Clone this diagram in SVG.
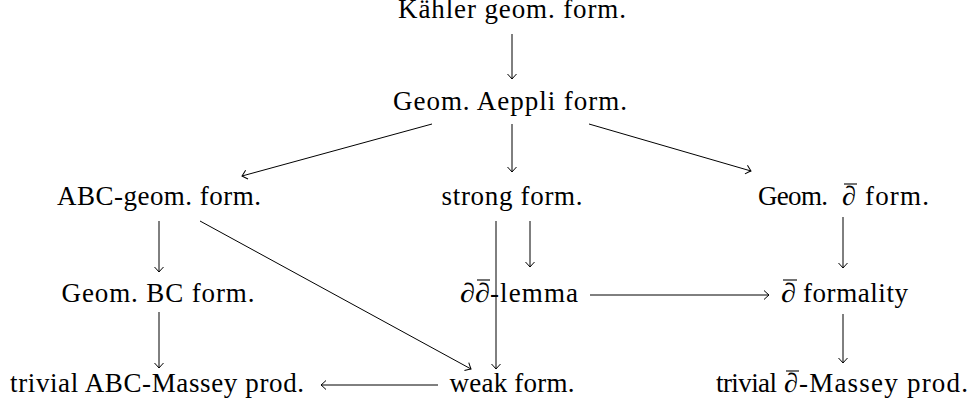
<svg xmlns="http://www.w3.org/2000/svg" width="978" height="412" viewBox="0 0 978 412">
<defs>
<style>
text{font-family:"Liberation Serif","Times New Roman",serif;font-size:27px;fill:#000}
.c{text-anchor:middle}
.i{font-style:italic}
.bar{stroke:#000;stroke-width:1.1}
.e{stroke:#000;stroke-width:1;fill:none;marker-end:url(#ah)}
</style>
<marker id="ah" markerUnits="userSpaceOnUse" markerWidth="12" markerHeight="12" refX="0" refY="0" viewBox="-6 -6 12 12" orient="auto" overflow="visible">
<path d="M-5,-4.5 Q-1.5,-1.2 0,0 Q-1.5,1.2 -5,4.5" fill="none" stroke="#000" stroke-width="1"/>
</marker>
</defs>
<rect width="978" height="412" fill="#fff"/>
<g id="connectors">
<line class="e" x1="512" y1="34" x2="512" y2="79"/>
<line class="e" x1="432" y1="124" x2="242" y2="176"/>
<line class="e" x1="512" y1="124" x2="512" y2="172"/>
<line class="e" x1="589" y1="124" x2="751" y2="171"/>
<line class="e" x1="159" y1="221" x2="159" y2="272"/>
<line class="e" x1="159" y1="312" x2="159" y2="368"/>
<line class="e" x1="200" y1="221" x2="471" y2="369"/>
<line class="e" x1="496" y1="221" x2="496" y2="369"/>
<line class="e" x1="530" y1="221" x2="530" y2="267"/>
<line class="e" x1="590" y1="295" x2="769" y2="295"/>
<line class="e" x1="843" y1="217" x2="843" y2="268"/>
<line class="e" x1="843" y1="314" x2="843" y2="363"/>
<line class="e" x1="438" y1="385" x2="321" y2="385"/>
</g>
<g id="kahler"><text class="c" x="512" y="18" textLength="228" lengthAdjust="spacing">Kähler geom.  form.</text></g>
<g id="aeppli"><text class="c" x="510" y="110" textLength="234" lengthAdjust="spacing">Geom.  Aeppli form.</text></g>
<g id="abcgeom"><text class="c" x="159" y="205" textLength="204" lengthAdjust="spacing">ABC-geom.  form.</text></g>
<g id="strong"><text class="c" x="512" y="205" textLength="141" lengthAdjust="spacing">strong form.</text></g>
<g id="geomdbar">
<text x="758" y="205" textLength="70" lengthAdjust="spacing">Geom.</text>
<text class="i" x="842" y="205" textLength="14" lengthAdjust="spacingAndGlyphs">∂</text>
<line class="bar" x1="844" y1="184" x2="857" y2="184"/>
<text x="865" y="205" textLength="64" lengthAdjust="spacing">form.</text>
</g>
<g id="geombc"><text class="c" x="158" y="302" textLength="193" lengthAdjust="spacing">Geom.  BC form.</text></g>
<g id="ddbar">
<text class="i" x="460" y="302" textLength="30" lengthAdjust="spacingAndGlyphs">∂∂</text>
<line class="bar" x1="477" y1="280" x2="490" y2="280"/>
<text x="490" y="302" textLength="88" lengthAdjust="spacing">-lemma</text>
</g>
<g id="dbarformality">
<text class="i" x="781" y="302" textLength="15" lengthAdjust="spacingAndGlyphs">∂</text>
<line class="bar" x1="783" y1="280" x2="797" y2="280"/>
<text x="803" y="302" textLength="105" lengthAdjust="spacing">formality</text>
</g>
<g id="trivialabc"><text class="c" x="157" y="392" textLength="294" lengthAdjust="spacing">trivial ABC-Massey prod.</text></g>
<g id="weak"><text class="c" x="512" y="392" textLength="125" lengthAdjust="spacing">weak form.</text></g>
<g id="trivialdbar">
<text x="716" y="392" textLength="61" lengthAdjust="spacing">trivial</text>
<text class="i" x="784" y="392" textLength="14" lengthAdjust="spacingAndGlyphs">∂</text>
<line class="bar" x1="786" y1="371" x2="799" y2="371"/>
<text x="799" y="392" textLength="169" lengthAdjust="spacing">-Massey prod.</text>
</g>
</svg>
